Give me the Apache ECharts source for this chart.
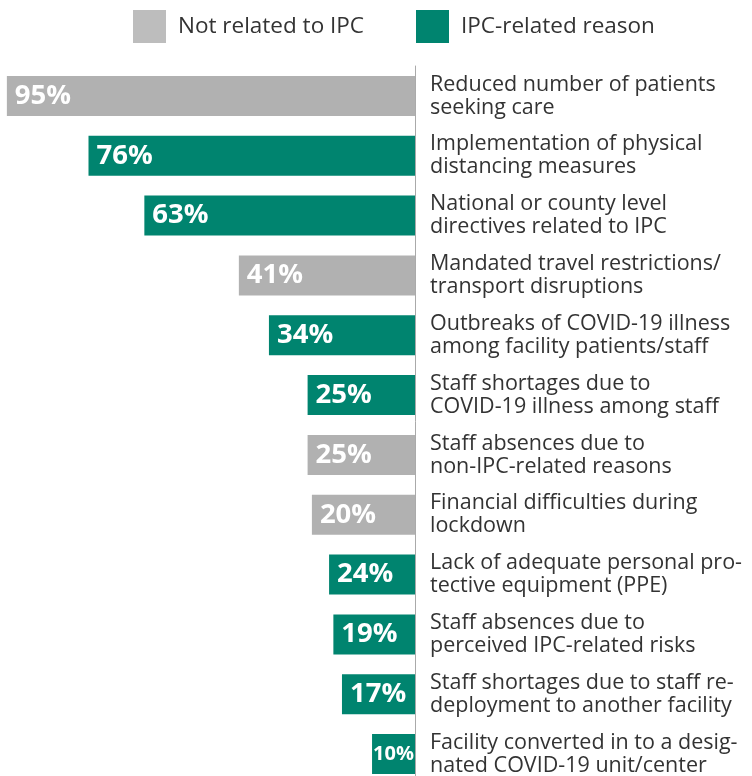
<!DOCTYPE html>
<html>
<head>
<meta charset="utf-8">
<script src="https://cdn.jsdelivr.net/npm/echarts@6/dist/echarts.min.js"></script>
<style>
html,body{margin:0;padding:0;background:#fff;}
#chart{width:752px;height:776px;}
</style>
</head>
<body>
<div id="chart"></div>
<script>
var categories = [
  'Reduced number of patients\nseeking care',
  'Implementation of physical\ndistancing measures',
  'National or county level\ndirectives related to IPC',
  'Mandated travel restrictions/\ntransport disruptions',
  'Outbreaks of COVID-19 illness\namong facility patients/staff',
  'Staff shortages due to\nCOVID-19 illness among staff',
  'Staff absences due to\nnon-IPC-related reasons',
  'Financial difficulties during\nlockdown',
  'Lack of adequate personal pro-\ntective equipment (PPE)',
  'Staff absences due to\nperceived IPC-related risks',
  'Staff shortages due to staff re-\ndeployment to another facility',
  'Facility converted in to a desig-\nnated COVID-19 unit/center'
];
// bar lengths as drawn in the picture
var barValues = [95, 76, 63, 41, 34, 25, 25, 24, 20, 19, 17, 10];
// value labels as printed on the bars
var valueLabels = ['95%', '76%', '63%', '41%', '34%', '25%', '25%', '20%', '24%', '19%', '17%', '10%'];
// reason group: 'N' = Not related to IPC, 'I' = IPC-related reason
var groups = ['N', 'I', 'I', 'N', 'I', 'I', 'N', 'N', 'I', 'I', 'I', 'I'];
var seriesNames = ['Not related to IPC', 'IPC-related reason'];

var GRAY = '#b1b1b1', GRAY_LEG = '#bdbdbd', TEAL = '#00846f';
var FONT = 'Open Sans';

function seriesData(code) {
  return barValues.map(function (v, i) {
    if (groups[i] !== code) return '-';
    var lab = { };
    if (v < 12) { lab.fontSize = 20; lab.distance = 1; }
    return { value: v, label: lab };
  });
}

var labelCfg = {
  show: true,
  position: 'insideLeft',
  distance: 8,
  color: '#fff',
  fontFamily: 'Open Sans',
  fontWeight: 'bold',
  fontSize: 27.5,
  padding: [4, 0, 0, 0],
  formatter: function (p) { return valueLabels[p.dataIndex]; }
};

var chart = echarts.init(document.getElementById('chart'));
chart.setOption({
  animation: false,
  legend: [{
    left: 133, top: 10, padding: 0, itemWidth: 33, itemHeight: 33, icon: 'rect',
    data: [{ name: seriesNames[0], itemStyle: { color: GRAY_LEG } }],
    textStyle: { fontFamily: FONT, fontSize: 22.5, color: '#333', padding: [4, 0, 0, 7] },
    selectedMode: false
  }, {
    left: 416, top: 10, padding: 0, itemWidth: 33, itemHeight: 33, icon: 'rect',
    data: [{ name: seriesNames[1], itemStyle: { color: TEAL } }],
    textStyle: { fontFamily: FONT, fontSize: 22.5, color: '#333', padding: [4, 0, 0, 7] },
    selectedMode: false
  }],
  grid: { left: 0, width: 415, top: 66, height: 718, containLabel: false, outerBoundsMode: 'none' },
  xAxis: {
    type: 'value', inverse: true, min: 0, max: 96.6,
    show: false, splitLine: { show: false }
  },
  yAxis: {
    type: 'category', inverse: true, position: 'right', data: categories,
    axisLine: { show: true, lineStyle: { color: '#aaaaaa', width: 1 } },
    axisTick: { show: false },
    axisLabel: {
      margin: 15, align: 'left', color: '#333', fontFamily: FONT,
      fontSize: 21.5, lineHeight: 23
    }
  },
  series: [{
    name: seriesNames[0], type: 'bar', stack: 'all', barWidth: 40,
    itemStyle: { color: GRAY }, label: labelCfg, data: seriesData('N')
  }, {
    name: seriesNames[1], type: 'bar', stack: 'all', barWidth: 40,
    itemStyle: { color: TEAL }, label: labelCfg, data: seriesData('I')
  }]
});
</script>
</body>
</html>
